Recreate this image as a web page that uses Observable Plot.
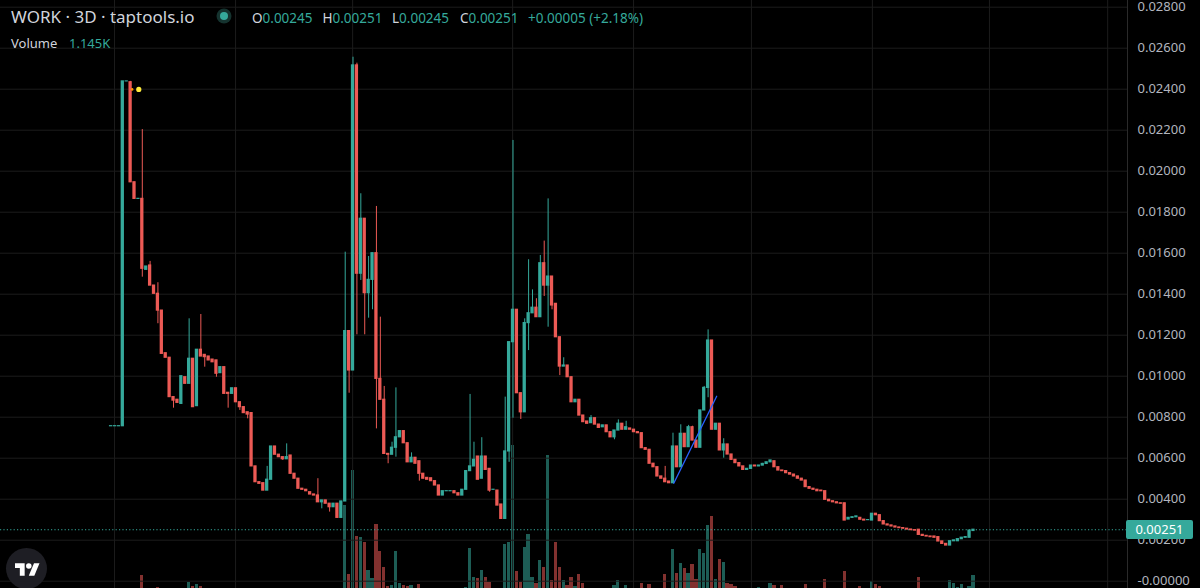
<!DOCTYPE html>
<html><head><meta charset="utf-8">
<script src="https://cdn.jsdelivr.net/npm/d3@7"></script>
<script src="https://cdn.jsdelivr.net/npm/@observablehq/plot@0.6"></script>
<style>
html,body{margin:0;padding:0;background:#000;overflow:hidden;}
#wrap{position:relative;width:1200px;height:588px;background:#000;overflow:hidden;font-family:"Noto Sans",sans-serif;}
#wrap > svg, #wrap > div {position:absolute;left:0;top:0;}
</style></head><body><div id="wrap"></div>
<script>
// ---------- data ----------
const symbolText = "WORK · 3D · taptools.io";
const ohlcLabels = ["O","H","L","C"];
const ohlcValues = ["0.00245","0.00251","0.00245","0.00251"];
const changeText = "+0.00005 (+2.18%)";
const volumeText = "1.145K";

const open = [
0.00756,0.00756,0.00756,0.00756,0.02438,0.02434,0.01946,0.01865,0.01865,0.01519,
0.0154,0.01442,0.01402,0.0132,0.01112,0.0109,0.00898,0.00885,0.00865,0.00995,
0.00963,0.01085,0.00854,0.01129,0.01104,0.01096,0.01081,0.01077,0.01015,0.01044,
0.00919,0.00914,0.00941,0.00873,0.00849,0.00824,0.0082,0.0056,0.00483,0.00478,
0.00442,0.00495,0.00657,0.00617,0.00605,0.00595,0.00613,0.00524,0.005,0.00451,
0.00446,0.00434,0.00423,0.00418,0.00385,0.00394,0.00378,0.00361,0.00378,0.00309,
0.00389,0.0122,0.01028,0.02516,0.015,0.01768,0.01405,0.0147,0.016,0.00987,
0.00885,0.00621,0.00617,0.00651,0.00702,0.00732,0.00673,0.0058,0.00602,0.00585,
0.00524,0.00504,0.00502,0.00488,0.00467,0.00418,0.00439,0.00439,0.00439,0.00429,
0.00418,0.00446,0.00537,0.0056,0.00608,0.005,0.00608,0.00548,0.00446,0.00442,
0.00374,0.00304,0.00633,0.01166,0.01324,0.00917,0.00824,0.01259,0.01307,0.01334,
0.01288,0.01551,0.01442,0.01486,0.01353,0.0119,0.01047,0.01052,0.00995,0.00873,
0.00885,0.00808,0.00779,0.00771,0.00795,0.00764,0.00751,0.0076,0.00727,0.00702,
0.00735,0.00768,0.00739,0.00745,0.00739,0.00727,0.00722,0.00649,0.00641,0.00573,
0.00556,0.00511,0.005,0.00486,0.00478,0.00657,0.00556,0.00719,0.00654,0.00751,
0.00686,0.00651,0.00833,0.00943,0.01174,0.00739,0.00768,0.00638,0.00667,0.00618,
0.00592,0.00576,0.0056,0.00543,0.00548,0.00564,0.0056,0.00564,0.00572,0.0058,
0.00585,0.00556,0.0054,0.00537,0.00527,0.0052,0.00511,0.005,0.00491,0.00459,
0.00451,0.00446,0.00442,0.00439,0.00397,0.0039,0.00385,0.0038,0.0038,0.00301,
0.00309,0.00312,0.00309,0.003,0.00298,0.00296,0.00329,0.00322,0.00293,0.00277,
0.00272,0.00267,0.00262,0.00259,0.00256,0.00252,0.00249,0.00251,0.00226,0.00221,
0.00218,0.00218,0.00215,0.00194,0.00182,0.00174,0.00195,0.00195,0.00205,0.00212,
0.00212,0.00245];

const high = [
0.00756,0.00756,0.00756,0.02438,0.02438,0.02438,0.01946,0.01865,0.02203,0.01535,
0.0156,0.01442,0.01456,0.0132,0.01112,0.0109,0.00898,0.00885,0.01,0.00995,
0.0128,0.01085,0.01129,0.01301,0.01104,0.01096,0.01081,0.01077,0.01044,0.01044,
0.00919,0.00941,0.00941,0.00873,0.00849,0.00824,0.0082,0.0056,0.00483,0.00478,
0.0056,0.00657,0.00657,0.00617,0.00605,0.0067,0.00613,0.00524,0.005,0.00451,
0.00446,0.00434,0.00423,0.005,0.00394,0.00394,0.00378,0.00378,0.00378,0.00389,
0.01605,0.0122,0.02556,0.02527,0.0189,0.01768,0.01584,0.016,0.01828,0.01288,
0.0095,0.00621,0.00678,0.00943,0.00732,0.00732,0.00673,0.00626,0.00602,0.00585,
0.00524,0.00504,0.00502,0.00488,0.00467,0.00439,0.00439,0.00439,0.00439,0.00429,
0.00446,0.00537,0.00911,0.00678,0.00608,0.007,0.00608,0.00548,0.00446,0.00442,
0.00374,0.00898,0.01166,0.0215,0.01324,0.00917,0.0128,0.01568,0.01421,0.01378,
0.01589,0.01659,0.01865,0.01486,0.01353,0.0119,0.0109,0.01052,0.00995,0.00885,
0.00885,0.00808,0.00779,0.00808,0.00795,0.00764,0.0076,0.0076,0.00727,0.00735,
0.00787,0.00768,0.0078,0.00745,0.00739,0.00727,0.00722,0.00649,0.00641,0.00573,
0.00556,0.00511,0.0056,0.00486,0.00722,0.00657,0.00763,0.00719,0.0076,0.00756,
0.00686,0.00833,0.0095,0.01226,0.01174,0.00768,0.00768,0.00695,0.00667,0.00618,
0.00592,0.00576,0.0056,0.00548,0.00564,0.00564,0.00564,0.00575,0.0058,0.00589,
0.00585,0.00556,0.0054,0.00537,0.00527,0.0052,0.00511,0.005,0.00491,0.00459,
0.00451,0.00446,0.00442,0.00439,0.00397,0.0039,0.00385,0.0038,0.0038,0.00309,
0.00312,0.00316,0.00309,0.003,0.00298,0.00329,0.00329,0.00322,0.00293,0.00277,
0.00272,0.00267,0.00262,0.00259,0.00256,0.00252,0.00249,0.00251,0.00226,0.00221,
0.00218,0.00218,0.00215,0.00194,0.00182,0.00195,0.00199,0.00205,0.00212,0.00215,
0.00247,0.00251];

const low = [
0.00756,0.00756,0.00756,0.00756,0.02438,0.01946,0.01865,0.01865,0.01483,0.01519,
0.01442,0.01402,0.01256,0.01109,0.0109,0.00898,0.00844,0.0087,0.00865,0.00963,
0.00963,0.00849,0.00854,0.01096,0.01044,0.01077,0.01068,0.00995,0.01015,0.00914,
0.00844,0.00914,0.00873,0.00833,0.0082,0.00792,0.0056,0.00483,0.00475,0.00442,
0.00442,0.00495,0.00617,0.00605,0.00589,0.00595,0.00524,0.005,0.00451,0.00446,
0.00439,0.00423,0.00418,0.00385,0.00353,0.00378,0.00337,0.00361,0.00309,0.00309,
0.00389,0.00917,0.01028,0.01202,0.01467,0.01202,0.01283,0.01324,0.00743,0.00885,
0.00621,0.00573,0.00617,0.00605,0.00702,0.00673,0.0058,0.0058,0.00573,0.00488,
0.005,0.00495,0.00488,0.00467,0.00418,0.00418,0.00439,0.00439,0.00429,0.00418,
0.00418,0.00446,0.00537,0.0056,0.00495,0.005,0.00543,0.00434,0.00446,0.00369,
0.00304,0.00304,0.0058,0.00795,0.00917,0.00789,0.00824,0.01125,0.01307,0.01288,
0.01288,0.01389,0.01239,0.01324,0.0119,0.01003,0.01047,0.00995,0.00873,0.00873,
0.00808,0.00776,0.00768,0.00771,0.00764,0.00748,0.00751,0.00727,0.00702,0.0069,
0.00735,0.00739,0.00739,0.00739,0.00727,0.00722,0.00649,0.00641,0.00573,0.00556,
0.00511,0.005,0.00483,0.00478,0.00478,0.00556,0.00556,0.00654,0.00654,0.00686,
0.00651,0.00651,0.00833,0.00895,0.00739,0.00739,0.00638,0.006,0.00618,0.00592,
0.00576,0.0056,0.00543,0.00543,0.00548,0.0056,0.0056,0.00564,0.00572,0.0058,
0.00556,0.0054,0.00537,0.00527,0.0052,0.00511,0.005,0.00491,0.00459,0.00451,
0.00446,0.00439,0.00439,0.00397,0.0039,0.00385,0.0038,0.00378,0.00296,0.00301,
0.00309,0.00312,0.003,0.00296,0.00298,0.00296,0.00322,0.00293,0.00277,0.00272,
0.00267,0.00262,0.00259,0.00256,0.00252,0.00249,0.00247,0.00226,0.00221,0.00218,
0.00215,0.00212,0.00194,0.00182,0.00174,0.00174,0.00195,0.00195,0.00205,0.00212,
0.00212,0.00245];

const close = [
0.00756,0.00756,0.00756,0.02438,0.02438,0.01946,0.01865,0.01865,0.01524,0.01535,
0.01442,0.01402,0.0132,0.01109,0.0109,0.00898,0.00881,0.0087,0.01,0.00963,
0.01085,0.00849,0.01129,0.01096,0.01093,0.01077,0.01068,0.01012,0.01044,0.00914,
0.00914,0.00941,0.00873,0.00849,0.0082,0.00813,0.0056,0.00483,0.00475,0.00442,
0.00495,0.00657,0.00617,0.00605,0.00595,0.00605,0.00524,0.005,0.00451,0.00446,
0.00439,0.00423,0.00418,0.00385,0.00394,0.00378,0.00361,0.00378,0.00309,0.00389,
0.0122,0.01028,0.02516,0.015,0.01768,0.01405,0.0147,0.016,0.00987,0.00885,
0.00621,0.00617,0.00651,0.00702,0.00732,0.00673,0.0058,0.00602,0.00573,0.00524,
0.005,0.00495,0.00488,0.00467,0.00418,0.00439,0.00439,0.00439,0.00429,0.00418,
0.00446,0.00537,0.0056,0.00592,0.00495,0.00608,0.00543,0.00442,0.00446,0.00369,
0.00304,0.00633,0.01166,0.01324,0.00917,0.00824,0.01259,0.01307,0.01334,0.01288,
0.01551,0.01442,0.01486,0.01345,0.0119,0.01047,0.01052,0.00995,0.00873,0.00885,
0.00808,0.00776,0.00768,0.00795,0.00764,0.00748,0.0076,0.00727,0.00702,0.00735,
0.00768,0.00739,0.00751,0.00739,0.00727,0.00722,0.00649,0.00641,0.00573,0.00556,
0.00511,0.005,0.00483,0.00478,0.00657,0.00556,0.00719,0.00654,0.00751,0.00686,
0.00651,0.00833,0.00943,0.01174,0.00739,0.00768,0.00638,0.00667,0.00618,0.00592,
0.00576,0.0056,0.00543,0.00548,0.00564,0.0056,0.00564,0.00572,0.0058,0.00589,
0.00556,0.0054,0.00537,0.00527,0.0052,0.00511,0.005,0.00491,0.00459,0.00451,
0.00446,0.00439,0.00439,0.00397,0.0039,0.00385,0.0038,0.00378,0.00296,0.00309,
0.00312,0.00316,0.003,0.00296,0.00298,0.00329,0.00322,0.00293,0.00277,0.00272,
0.00267,0.00262,0.00259,0.00256,0.00252,0.00249,0.00247,0.00226,0.00221,0.00218,
0.00215,0.00212,0.00194,0.00182,0.00174,0.00195,0.00199,0.00205,0.00212,0.00215,
0.00247,0.00251];

// volume in thousands
const volume = [
0,0,0,0,0,0,0,0,1.14,0,
0,0,0.09,0,0,0,0,0,0,0,
0.55,0.18,0.35,0.18,0,0,0,0,0,0,
0,0,0,0,0,0,0,0,0,0,
0,0,0,0,0,0,0,0,0,0,
0,0,0,0,0,0,0,0,0,0,
7.3,1.23,10.4,4.58,4.46,4.02,1.58,0.88,5.6,3.28,
1.87,0.18,0.26,3.28,0.44,0.26,0.18,0.26,0,0.35,
0,0,0,0,0,0,0,0,0,0,
0,0.11,3.55,0.99,0.85,1.58,0.94,0.55,0,0,
0,3.87,4.07,12.58,1.5,0.55,3.58,4.73,0.99,0.41,
2.46,1.87,11.7,0.7,4.07,1.82,0.7,0.26,0.99,0.2,
1.2,0.44,0,0,0,0,0,0,0,0.26,
0.7,0,0.26,0,0,0,0.41,0,0.35,0,
0,0,1.23,0,3.4,1.35,2.23,1.73,1.35,2.11,
0.77,3.4,3.05,5.54,6.34,0.77,2.55,2.26,0.41,0.35,
0.2,0,0,0,0,0,0.11,0,0,0.47,
0.26,0,0.26,0,0,0,0,0,0.35,0,
0,0,0,0.77,0,0,0,0,1.52,0,
0,0,0.18,0,0,0.64,0.33,0.18,0,0,
0,0,0,0,0,0,0,0.94,0,0,
0,0,0,0,0,0.7,0.47,0.11,0.33,0,
0.2,1.145];

const yTicks = [0,0.002,0.004,0.006,0.008,0.010,0.012,0.014,0.016,0.018,0.020,0.022,0.024,0.026,0.028];
const timeGrid = [0.87, 31.9, 61.9, 102.9, 133.9, 164.1, 195.1, 225.1, 255.4];
const trendX = [144.2, 155.2];
const trendY = [0.00478, 0.00902];
const markerX = [5.4, 7.1];
const markerY = [0.02399, 0.02399];
const markerR = [1.3, 2.6];
const markerC = ["#ff9800", "#ffeb3b"];

// ---------- style ----------
const UP = "#35a99b", DOWN = "#ec5a55";
const GRID = "#1c1c1c";
const XDOM = [-28.34, 260.48];
const candles = open.map((o, i) => ({i, o, h: high[i], l: low[i], c: close[i], v: volume[i], up: close[i] >= o}));
const last = candles[candles.length - 1];

const wrap = document.getElementById("wrap");

const volPlot = Plot.plot({
  width: 1200, height: 588, marginLeft: 0, marginRight: 73, marginTop: 0, marginBottom: 0,
  x: {domain: XDOM, axis: null},
  y: {domain: [0, 51.73], axis: null},
  color: {type: "identity"},
  style: {background: "#000"},
  marks: [
    Plot.rect(candles.filter(d => d.v > 0), {
      x1: d => d.i - 0.42, x2: d => d.i + 0.42, y1: 0, y2: "v",
      fill: d => d.up ? UP : DOWN, fillOpacity: 0.55, shapeRendering: "crispEdges"
    })
  ]
});
wrap.appendChild(volPlot);

const pricePlot = Plot.plot({
  width: 1200, height: 588, marginLeft: 0, marginRight: 73, marginTop: 6.7, marginBottom: 7.3,
  x: {domain: XDOM, axis: null},
  y: {domain: [0, 0.028], axis: null},
  color: {type: "identity"},
  r: {type: "identity"},
  style: {background: "transparent", fontFamily: "'Noto Sans', sans-serif"},
  marks: [
    Plot.ruleY(yTicks, {stroke: GRID, strokeWidth: 1}),
    Plot.ruleX(timeGrid, {y1: -0.0005, y2: 0.0285, stroke: GRID, strokeWidth: 1}),
    Plot.ruleY([last.c], {stroke: UP, strokeDasharray: "1.2,2.2", strokeWidth: 1}),
    Plot.ruleX(candles, {x: "i", y1: "l", y2: "h", stroke: d => d.up ? UP : DOWN, strokeWidth: 1}),
    Plot.rect(candles, {
      x1: d => d.i - 0.42, x2: d => d.i + 0.42, y1: "o", y2: "c",
      fill: d => d.up ? UP : DOWN, insetTop: -0.6, insetBottom: -0.6
    }),
    Plot.line(trendX.map((x, k) => ({x, y: trendY[k]})), {x: "x", y: "y", stroke: "#2962ff", strokeWidth: 1.3}),
    Plot.dot(markerX.map((x, k) => ({x, y: markerY[k], r: markerR[k], c: markerC[k]})), {x: "x", y: "y", r: "r", fill: "c", stroke: null}),
    Plot.ruleX([XDOM[1]], {y1: -0.001, y2: 0.03, stroke: "#2a2a2a"}),
    Plot.axisY(yTicks, {
      anchor: "right", tickSize: 0, tickPadding: 10, fontSize: 13, fill: "#b2b5be",
      tickFormat: d => d === 0 ? "-0.00000" : d.toFixed(5)
    })
  ]
});
wrap.appendChild(pricePlot);

// price label on the axis
const py = pricePlot.scale("y").apply(last.c);
const box = document.createElement("div");
box.style.cssText = `left:1126px;top:${py - 9.5}px;width:67px;height:19px;background:${UP};border-radius:2px;color:#fff;font:13px 'Noto Sans',sans-serif;line-height:19px;text-align:center;`;
box.textContent = last.c.toFixed(5);
wrap.appendChild(box);

// header + logo overlay
const ov = d3.create("svg").attr("width", 1200).attr("height", 588)
  .style("position", "absolute").style("left", 0).style("top", 0)
  .style("font-family", "'Noto Sans', sans-serif");
ov.append("text").attr("x", 11).attr("y", 22.6).attr("font-size", 17).attr("fill", "#d1d4dc").text(symbolText);
ov.append("circle").attr("cx", 224).attr("cy", 16).attr("r", 7.5).attr("fill", "#15332f");
ov.append("circle").attr("cx", 224).attr("cy", 16).attr("r", 4).attr("fill", UP);
const ohlcX = [252, 322.5, 392, 460];
ohlcLabels.forEach((lab, k) => {
  const t = ov.append("text").attr("x", ohlcX[k]).attr("y", 22.6).attr("font-size", 13.5);
  t.append("tspan").attr("fill", "#d1d4dc").text(lab);
  t.append("tspan").attr("fill", UP).text(ohlcValues[k]);
});
ov.append("text").attr("x", 528).attr("y", 22.6).attr("font-size", 13.5).attr("fill", UP).text(changeText);
const vt = ov.append("text").attr("x", 11).attr("y", 48.3).attr("font-size", 13);
vt.append("tspan").attr("fill", "#d1d4dc").text("Volume");
vt.append("tspan").attr("x", 69).attr("fill", UP).text(volumeText);
// TradingView logo
ov.append("circle").attr("cx", 26.5).attr("cy", 568.5).attr("r", 20.5).attr("fill", "#1e1e24");
const lg = ov.append("g").attr("transform", "translate(15,560.5) scale(0.69)").attr("fill", "#fff");
lg.append("path").attr("d", "M14 22H7V11H0V4h14v18z");
lg.append("circle").attr("cx", 20).attr("cy", 8).attr("r", 4);
lg.append("path").attr("d", "M28 22h-8l7.5-18h8L28 22z");
wrap.appendChild(ov.node());
</script></body></html>
